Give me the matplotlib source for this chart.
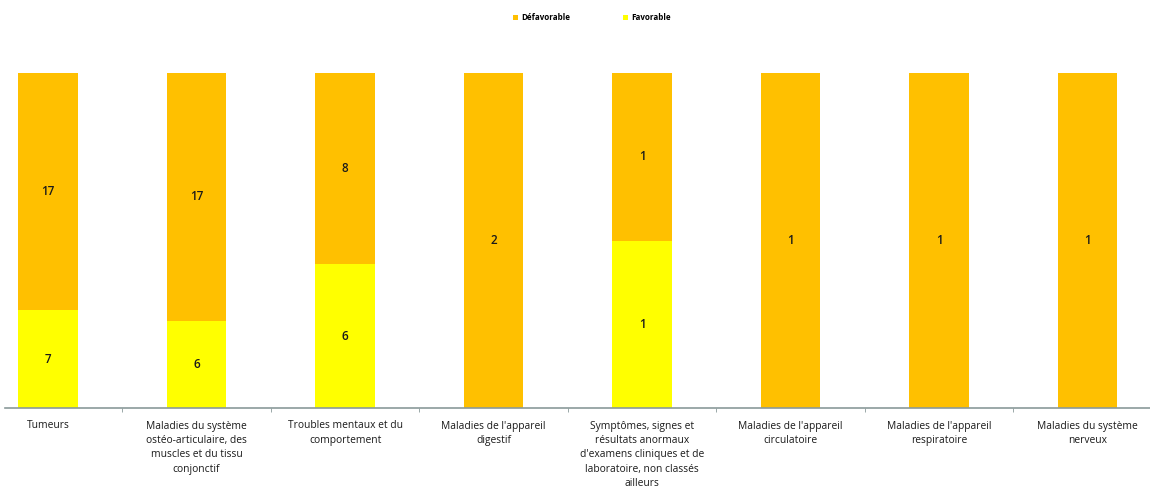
import matplotlib
matplotlib.use('Agg')
import matplotlib.pyplot as plt
import numpy as np

plt.rcParams['font.family'] = ['Open Sans', 'DejaVu Sans']

categories = [
    "Tumeurs",
    "Maladies du système\nostéo-articulaire, des\nmuscles et du tissu\nconjonctif",
    "Troubles mentaux et du\ncomportement",
    "Maladies de l'appareil\ndigestif",
    "Symptômes, signes et\nrésultats anormaux\nd'examens cliniques et de\nlaboratoire, non classés\nailleurs",
    "Maladies de l'appareil\ncirculatoire",
    "Maladies de l'appareil\nrespiratoire",
    "Maladies du système\nnerveux",
]
defavorable = [17, 17, 8, 2, 1, 1, 1, 1]
favorable = [7, 6, 6, 0, 1, 0, 0, 0]

c_def = '#FFC000'
c_fav = '#FFFF00'

defa = np.array(defavorable, dtype=float)
fav = np.array(favorable, dtype=float)
total = defa + fav
p_fav = fav / total
p_def = defa / total

fig = plt.figure(figsize=(11.5, 4.92), dpi=100)
ax = fig.add_axes([5 / 1150, 84 / 492, 1145 / 1150, 335 / 492])

x = np.arange(len(categories))
w = 0.40
ax.bar(x, p_fav, w, color=c_fav, label='Favorable')
ax.bar(x, p_def, w, bottom=p_fav, color=c_def, label='Défavorable')

# nombre de cas au centre de chaque segment
for i in range(len(x)):
    if fav[i] > 0:
        ax.text(x[i], p_fav[i] / 2, str(favorable[i]), ha='center', va='center',
                fontsize=8.5, color='#1a1a1a', fontweight='semibold')
    if defa[i] > 0:
        ax.text(x[i], p_fav[i] + p_def[i] / 2, str(defavorable[i]), ha='center',
                va='center', fontsize=8.5, color='#1a1a1a', fontweight='semibold')

ax.set_xlim(-0.29, 7.42)
ax.set_ylim(0, 1)
ax.set_yticks([])
for s in ['top', 'right', 'left']:
    ax.spines[s].set_visible(False)
ax.spines['bottom'].set_color('#8a9a9a')
ax.spines['bottom'].set_linewidth(1.2)

ax.set_xticks(x)
ax.set_xticklabels(categories, fontsize=7.4, linespacing=1.42, color='#1a1a1a', va='top')
ax.tick_params(axis='x', which='major', length=0, pad=9)
ax.set_xticks(x[:-1] + 0.5, minor=True)
ax.tick_params(axis='x', which='minor', length=3, color='#8a9a9a')

handles, labels = ax.get_legend_handles_labels()
fig.legend(handles[::-1], labels[::-1], loc='center', bbox_to_anchor=(592 / 1150, 1 - 18 / 492),
           ncol=2, frameon=False, prop={'size': 5.8, 'weight': 'bold'}, handlelength=0.6,
           handleheight=0.6, columnspacing=6.5, handletextpad=0.4)

fig.savefig('out.png', dpi=100)
